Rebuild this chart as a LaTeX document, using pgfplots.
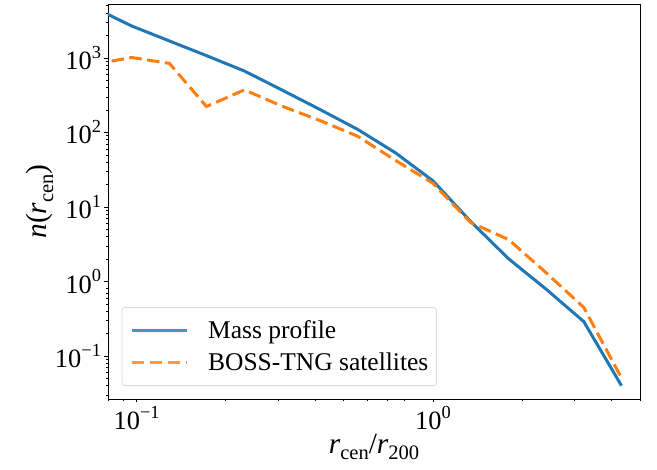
\documentclass[border=0pt]{standalone}
\usepackage{pgfplots}
\pgfplotsset{compat=1.18}
\usepackage{fontspec}
\setmainfont{Liberation Serif}
\definecolor{tabblue}{HTML}{1F77B4}
\definecolor{taborange}{HTML}{FF7F0E}
\newcommand\tk[1]{10\raisebox{0.42em}{\fontsize{18.5}{20}\selectfont #1}}
\newcommand\sub[1]{\raisebox{-0.22em}{\fontsize{20.6}{22}\selectfont #1}}
\begin{document}
\begin{tikzpicture}
\useasboundingbox (-108bp,-71bp) rectangle (549bp,399bp);
\begin{axis}[
  anchor=south west, at={(0,0)},
  scale only axis, width=532bp, height=395bp,
  xmode=log, ymode=log,
  xmin=0.08, xmax=5, ymin=0.0265, ymax=5300,
  xtick pos=bottom, ytick pos=left,
  xtick={0.1,1}, xticklabels={\tk{−1},\tk{0}},
  minor xtick={0.08,0.09,0.2,0.3,...,0.9,2,3,4,5},
  ytick={0.1,1,10,100,1000},
  yticklabels={\tk{−1},\tk{0},\tk{1},\tk{2},\tk{3}},
  minor ytick={0.03,0.04,...,0.09,0.2,0.3,...,0.9,2,3,...,9,20,30,...,90,200,300,...,900,2000,3000,4000,5000},
  tick align=outside, major tick length=3.5bp, minor tick length=2bp,
  tick style={black, line width=0.8bp},
  axis line style={line width=0.8bp},
  ticklabel style={font=\fontsize{26.5}{30}\selectfont},
  label style={font=\fontsize{29.5}{34}\selectfont},
  xlabel={\textit{r}\sub{cen}/\textit{r}\sub{200}},
  ylabel={\textit{n}(\textit{r}\sub{cen})},
  xlabel style={at={(axis description cs:0.5,0)}, anchor=base, yshift=-54bp},
  ylabel style={at={(axis description cs:-0.128,0.5)}, anchor=center},
  legend style={at={(0,0)}, anchor=south west, xshift=13.7bp, yshift=13bp,
    draw=black!18, line width=0.8bp, rounded corners=3bp, fill=white,
    fill opacity=0.8, draw opacity=0.8, text opacity=1,
    font=\fontsize{25.6}{30}\selectfont, inner xsep=8bp, inner ysep=13.5bp,
    row sep=12.5bp, column sep=20bp, nodes={inner sep=0bp}},
  legend cell align=left,
  legend image code/.code={\draw[#1] (0bp,0bp) -- (55bp,0bp);},
]
\addplot[tabblue, line width=3bp, line join=round] coordinates {
(0.0717,4750) (0.0961,2690) (0.129,1690) (0.172,1075) (0.231,668)
(0.310,370) (0.415,204) (0.557,110) (0.746,53.6) (1.0,22.5)
(1.34,6.4) (1.80,2.02) (2.41,0.79) (3.23,0.29) (4.33,0.040)};
\addplot[taborange, line width=3bp, line join=round, dash pattern=on 12.5bp off 5.5bp] coordinates {
(0.0717,822) (0.0961,1015) (0.129,845) (0.172,223) (0.231,373)
(0.310,225) (0.415,145) (0.557,89) (0.746,42.5) (1.0,20.8)
(1.34,6.2) (1.80,3.66) (2.41,1.31) (3.23,0.449) (4.33,0.0507)};
\legend{Mass profile, BOSS-TNG satellites}
\end{axis}
\end{tikzpicture}
\end{document}
